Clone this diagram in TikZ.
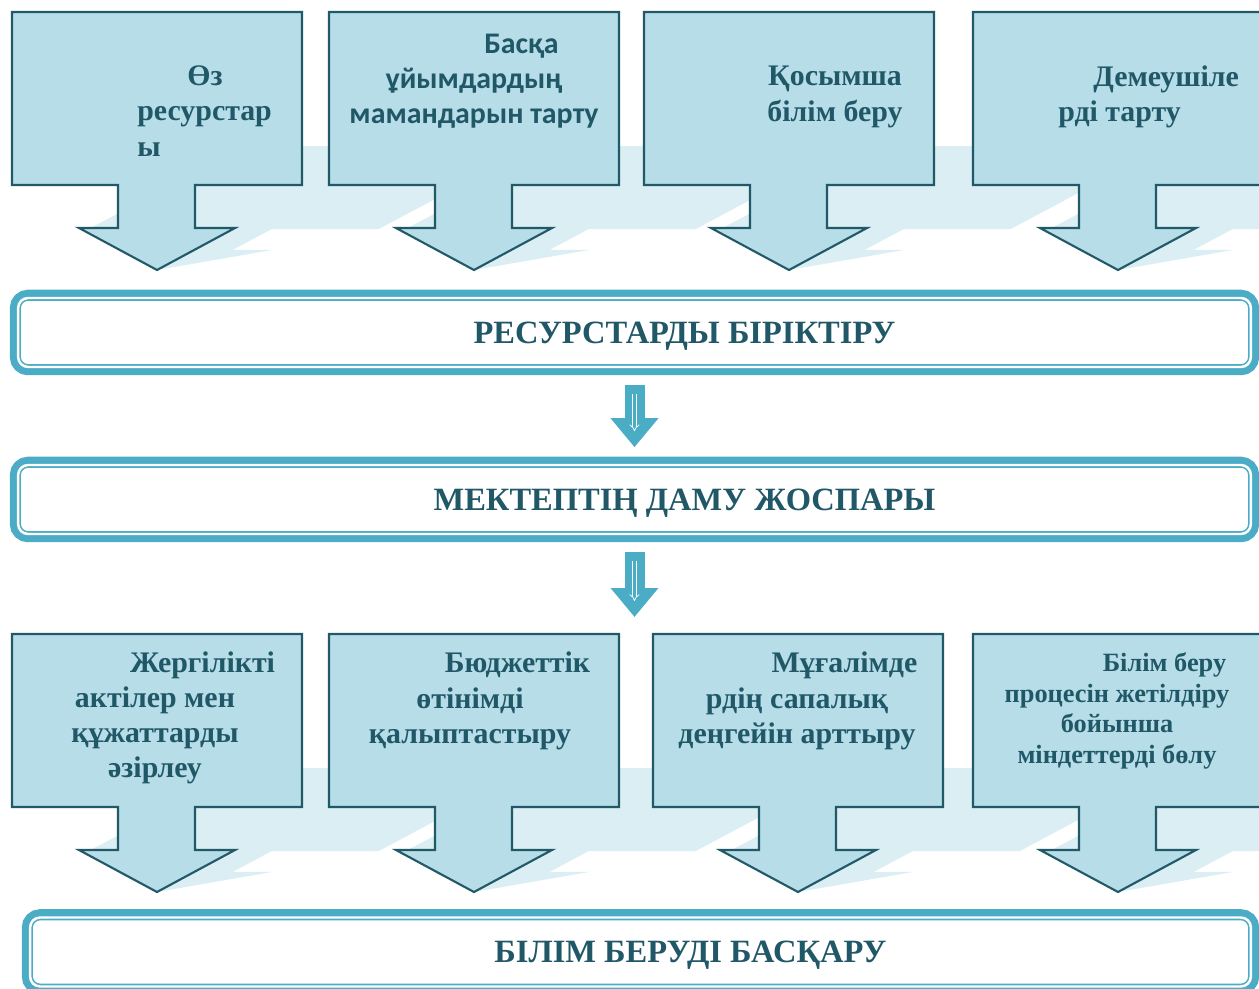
\documentclass[tikz,border=0pt]{standalone}
\usepackage{fontspec}
\setmainfont{Liberation Serif}
\newfontfamily\carlito{Carlito}
\usepackage{tikz}
\usetikzlibrary{arrows.meta,positioning}
\definecolor{calloutfill}{RGB}{183,221,232}
\definecolor{calloutline}{RGB}{33,89,104}
\definecolor{shade}{RGB}{218,238,243}
\definecolor{barteal}{RGB}{75,172,198}
\definecolor{inktext}{RGB}{33,88,104}

\begin{document}
\begin{tikzpicture}[x=0.02cm, y=-0.02cm,
  callout/.pic={\path[pic actions] (-145,-258) -- (145,-258) -- (145,-85) -- (38,-85)
    -- (38,-42) -- (78,-42) -- (0,0) -- (-78,-42) -- (-39,-42) -- (-39,-85)
    -- (-145,-85) -- cycle;},
  card/.style={fill=calloutfill, draw=calloutline, line width=1.2pt, line join=miter},
  castshade/.style={fill=shade, cm={1,0,0.9,0.48,(0,0)}},
  lbl/.style={text=inktext, font=\bfseries\fontsize{17}{20}\selectfont,
              inner sep=0pt, align=center},
  bar/.style={rectangle, rounded corners=0.2cm, minimum width=24.66cm,
              minimum height=1.38cm, fill=white, draw=barteal, line width=0.9pt,
              double=white, double distance=1.4pt,
              preaction={draw=barteal, line width=9.4pt},
              text height=12.2pt, text depth=0pt,
              text=inktext, font=\bfseries\fontsize{18.5}{21}\selectfont},
  flow/.style={draw=barteal, line width=0.4cm, shorten <=0.34cm, shorten >=0.34cm,
               -{Triangle[width=0.92cm,length=0.58cm]},
               postaction={draw=white, line width=0.4pt, double=barteal,
                           double distance=1.6pt, -{Implies},
                           shorten <=0.52cm, shorten >=0.66cm}}]
  \useasboundingbox (0,0) rectangle (1259,989);

  \foreach \tx/\ty in {157/270,474/270,789/270,1118/270,157/892,474/892,798/892,1118/892}
    \pic[castshade] at (\tx,\ty) {callout};
  \foreach \tx/\ty in {157/270,474/270,789/270,1118/270,157/892,474/892,798/892,1118/892}
    \pic[card] at (\tx,\ty) {callout};

  \node[lbl, align=left, anchor=west] (own) at (137,111) {\hspace*{1cm}Өз\\ресурстар\\ы};
  \node[lbl, font=\carlito\bfseries\fontsize{17}{20}\selectfont] (staff) at (474,81.5)
    {\hspace*{1.9cm}Басқа\\ұйымдардың\\мамандарын тарту};
  \node[lbl] (extra) at (835,97) {Қосымша\\білім беру};
  \node[lbl, align=left, anchor=west] (sponsor) at (1058,97) {\hspace*{0.7cm}Демеушіле\\рді тарту};

  \node[lbl] (acts) at (155,718) {\hspace*{1.9cm}Жергілікті\\актілер мен\\құжаттарды\\әзірлеу};
  \node[lbl] (budget) at (470,701) {\hspace*{1.9cm}Бюджеттік\\өтінімді\\қалыптастыру};
  \node[lbl] (teach) at (797,701) {\hspace*{1.9cm}Мұғалімде\\рдің сапалық\\деңгейін арттыру};
  \node[lbl, font=\bfseries\fontsize{15}{17.5}\selectfont] (tasks) at (1117,711)
    {\hspace*{1.9cm}Білім беру\\процесін жетілдіру\\бойынша\\міндеттерді бөлу};

  \node[bar] (merge) at (634.5,332.5) {\hspace*{2cm}РЕСУРСТАРДЫ БІРІКТІРУ};
  \node[bar] (plan) at (634.5,499.5) {\hspace*{2cm}МЕКТЕПТІҢ ДАМУ ЖОСПАРЫ};
  \node[bar, minimum width=24.42cm] (manage) at (640.5,952) {\hspace*{2cm}БІЛІМ БЕРУДІ БАСҚАРУ};
  \coordinate (split) at (634.5,634);

  \draw[flow] (merge) -- (plan);
  \draw[flow] (plan) -- (split);
\end{tikzpicture}
\end{document}
